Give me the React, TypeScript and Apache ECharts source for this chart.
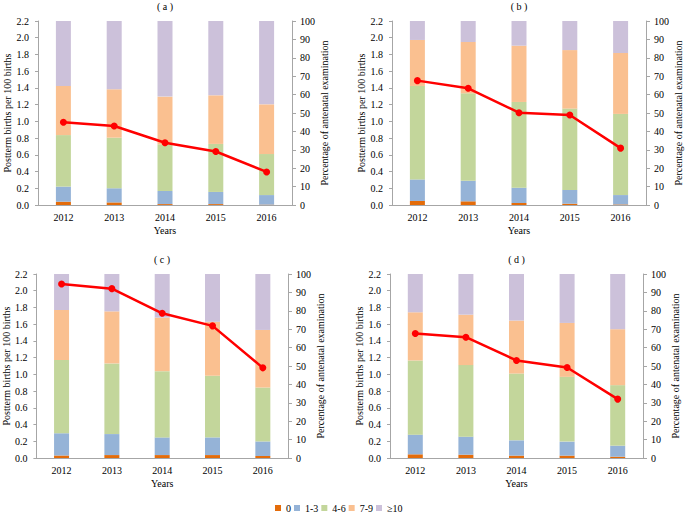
import React, { useEffect, useRef } from "react";
import * as echarts from "echarts";

const years = ["2012", "2013", "2014", "2015", "2016"];
const groups = ["0", "1-3", "4-6", "7-9", "≥10"];
const groupColors = ["#E46C0A", "#95B3D7", "#C3D69B", "#FAC090", "#CCC1DA"];
const leftTicks = { min: 0, max: 2.2, interval: 0.2 };
const rightTicks = { min: 0, max: 100, interval: 10 };
const panelLabels = ["( a )", "( b )", "( c )", "( d )"];

// Percentage of antenatal examination groups (stacked, right axis)
const aZero = [1.8, 1.4, 0.5, 0.5, 0.2];
const aOneThree = [8.2, 7.7, 7.1, 6.6, 5.2];
const aFourSix = [28.0, 27.5, 25.4, 26.1, 22.3];
const aSevenNine = [26.7, 26.3, 25.9, 26.4, 27.0];
const aTenPlus = [35.3, 37.1, 41.1, 40.4, 45.3];
const aRate = [0.99, 0.945, 0.745, 0.64, 0.395];

const bZero = [2.2, 2.0, 1.1, 0.7, 0.3];
const bOneThree = [11.7, 11.2, 8.3, 7.5, 5.1];
const bFourSix = [50.8, 47.5, 46.6, 44.2, 44.1];
const bSevenNine = [25.0, 27.9, 30.6, 31.8, 33.1];
const bTenPlus = [10.3, 11.4, 13.4, 15.8, 17.4];
const bRate = [1.487, 1.395, 1.104, 1.076, 0.68];

const cZero = [1.3, 1.6, 1.6, 1.6, 1.1];
const cOneThree = [12.1, 11.4, 9.6, 9.6, 7.9];
const cFourSix = [39.9, 38.4, 36.0, 33.5, 29.3];
const cSevenNine = [27.2, 28.3, 29.1, 29.3, 31.3];
const cTenPlus = [19.5, 20.3, 23.7, 26.0, 30.4];
const cRate = [2.08, 2.025, 1.73, 1.58, 1.078];

const dZero = [2.0, 1.8, 1.3, 1.3, 0.7];
const dOneThree = [10.7, 9.8, 8.3, 7.6, 6.0];
const dFourSix = [40.3, 38.9, 36.3, 35.2, 32.9];
const dSevenNine = [26.2, 27.4, 28.8, 29.3, 30.4];
const dTenPlus = [20.8, 22.1, 25.3, 26.6, 30.0];
const dRate = [1.488, 1.444, 1.166, 1.082, 0.704];

const panelBars = [
  [aZero, aOneThree, aFourSix, aSevenNine, aTenPlus],
  [bZero, bOneThree, bFourSix, bSevenNine, bTenPlus],
  [cZero, cOneThree, cFourSix, cSevenNine, cTenPlus],
  [dZero, dOneThree, dFourSix, dSevenNine, dTenPlus],
];
const panelRates = [aRate, bRate, cRate, dRate];

const FONT = "'Liberation Serif', 'Times New Roman', serif";
const AXIS_COLOR = "#A6A6A6";

const layouts = [
  { left: 38, top: 21, width: 254, height: 184 },
  { left: 392, top: 21, width: 254, height: 184 },
  { left: 36, top: 274, width: 252, height: 184 },
  { left: 390, top: 274, width: 253, height: 184 },
];

export default function App() {
  const ref = useRef<HTMLDivElement>(null);
  useEffect(() => {
    if (!ref.current) return;
    const chart = echarts.init(ref.current, undefined, { renderer: "svg" });
    const grid: any[] = [];
    const xAxis: any[] = [];
    const yAxis: any[] = [];
    const series: any[] = [];
    const title: any[] = [];
    const txt = { fontFamily: FONT, fontSize: 10, color: "#000" };
    layouts.forEach((g, i) => {
      grid.push({ ...g, containLabel: false });
      title.push({
        text: panelLabels[i],
        left: g.left + g.width / 2,
        top: g.top - 20,
        textAlign: "center",
        padding: 0,
        textStyle: { ...txt, fontWeight: "normal" },
      });
      xAxis.push({
        type: "category",
        gridIndex: i,
        data: years,
        name: "Years",
        nameLocation: "middle",
        nameGap: 20,
        nameTextStyle: txt,
        axisLine: { lineStyle: { color: AXIS_COLOR } },
        axisTick: { show: false },
        axisLabel: { ...txt, margin: 7 },
      });
      yAxis.push({
        type: "value",
        gridIndex: i,
        position: "left",
        ...leftTicks,
        name: "Postterm births per 100 births",
        nameLocation: "middle",
        nameGap: 25,
        nameTextStyle: txt,
        axisLine: { show: true, lineStyle: { color: AXIS_COLOR } },
        axisTick: { show: true, length: 3, lineStyle: { color: AXIS_COLOR } },
        splitLine: { show: false },
        axisLabel: { ...txt, margin: 9, formatter: (v: number) => v.toFixed(1) },
      });
      yAxis.push({
        type: "value",
        gridIndex: i,
        position: "right",
        ...rightTicks,
        name: "Percentage of antenatal examination",
        nameLocation: "middle",
        nameGap: 27,
        nameTextStyle: txt,
        axisLine: { show: true, lineStyle: { color: AXIS_COLOR } },
        axisTick: { show: true, length: 4, lineStyle: { color: AXIS_COLOR } },
        splitLine: { show: false },
        axisLabel: { ...txt, margin: 8 },
      });
      panelBars[i].forEach((vals, k) => {
        series.push({
          type: "bar",
          name: groups[k],
          stack: "p" + i,
          xAxisIndex: i,
          yAxisIndex: i * 2 + 1,
          data: vals,
          barWidth: 15,
          itemStyle: { color: groupColors[k] },
        });
      });
      series.push({
        type: "line",
        name: "rate" + i,
        xAxisIndex: i,
        yAxisIndex: i * 2,
        data: panelRates[i],
        symbol: "circle",
        symbolSize: 7,
        lineStyle: { color: "#FF0000", width: 2.5 },
        itemStyle: { color: "#FF0000" },
        z: 5,
      });
    });
    chart.setOption({
      animation: false,
      textStyle: { fontFamily: FONT },
      title,
      grid,
      xAxis,
      yAxis,
      series,
      legend: {
        data: groups,
        left: 275,
        top: 503,
        itemWidth: 6,
        itemHeight: 6,
        itemGap: 3,
        icon: "rect",
        textStyle: txt,
        padding: 0,
      },
    });
    return () => chart.dispose();
  }, []);
  return (
    <div
      ref={ref}
      style={{ position: "absolute", left: 0, top: 0, width: 685, height: 516, background: "#fff" }}
    />
  );
}
